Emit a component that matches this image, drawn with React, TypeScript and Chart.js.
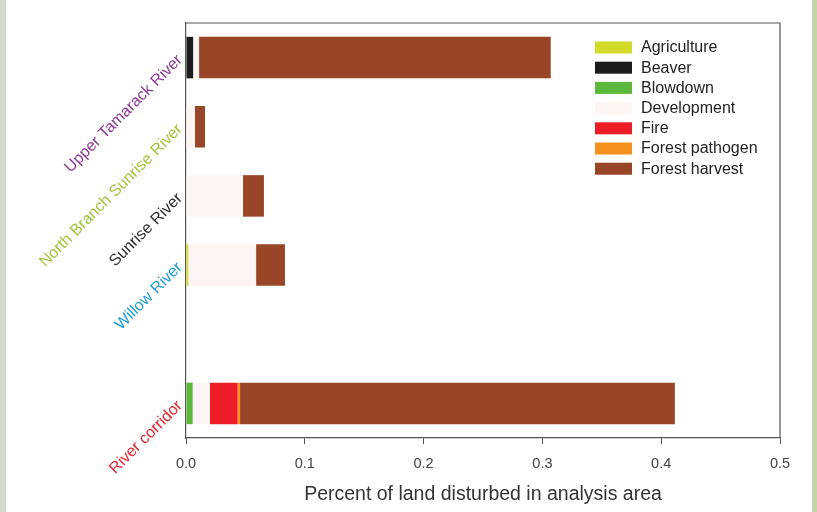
import React, { useEffect, useRef } from "react";
import { Chart, registerables } from "chart.js";

Chart.register(...registerables);

const categories = [
  "Upper Tamarack River",
  "North Branch Sunrise River",
  "Sunrise River",
  "Willow River",
  "",
  "River corridor",
];
const categoryColors = ["#8c3a95", "#9fc53a", "#2b2b2b", "#1f9bd7", "#ffffff", "#e4262c"];

const seriesNames = [
  "Agriculture",
  "Beaver",
  "Blowdown",
  "Development",
  "Fire",
  "Forest pathogen",
  "Forest harvest",
];
const seriesColors = ["#d2da2a", "#1c1c1c", "#5cb83c", "#fcf5f3", "#ec1d25", "#f5921f", "#994527"];

const agriculture = [0, 0, 0, 0.002, null, 0];
const beaver = [0.006, 0, 0, 0, null, 0];
const blowdown = [0, 0, 0, 0, null, 0.0056];
const development = [0.005, 0.0076, 0.048, 0.057, null, 0.0146];
const fire = [0, 0, 0, 0, null, 0.0233];
const forestPathogen = [0, 0, 0, 0, null, 0.002];
const forestHarvest = [0.296, 0.0084, 0.0176, 0.0243, null, 0.366];

const seriesValues = [agriculture, beaver, blowdown, development, fire, forestPathogen, forestHarvest];

const xTicks = [0, 0.1, 0.2, 0.3, 0.4, 0.5];
const xTitle = "Percent of land disturbed in analysis area";

const FONT = "'Liberation Sans', Arial, sans-serif";

const framePlugin = {
  id: "frame",
  afterDraw(chart: any) {
    const { ctx, chartArea } = chart;
    ctx.save();
    ctx.strokeStyle = "#555";
    ctx.lineWidth = 1.2;
    ctx.beginPath();
    ctx.moveTo(chartArea.left, chartArea.top);
    ctx.lineTo(chartArea.right, chartArea.top);
    ctx.lineTo(chartArea.right, chartArea.bottom);
    ctx.stroke();
    ctx.restore();
  },
};

const legendPlugin = {
  id: "customLegend",
  afterDraw(chart: any) {
    const { ctx, chartArea } = chart;
    const x0 = chartArea.right - 185;
    const y0 = chartArea.top + 24.5;
    ctx.save();
    ctx.font = `16px ${FONT}`;
    ctx.textBaseline = "middle";
    ctx.textAlign = "left";
    chart.data.datasets.forEach((ds: any, i: number) => {
      const cy = y0 + i * 20.2;
      ctx.fillStyle = ds.backgroundColor;
      ctx.fillRect(x0, cy - 6, 37, 12);
      ctx.fillStyle = "#222";
      ctx.fillText(ds.label, x0 + 46, cy + 0.5);
    });
    ctx.restore();
  },
};

export default function App() {
  const canvasRef = useRef<HTMLCanvasElement | null>(null);

  useEffect(() => {
    if (!canvasRef.current) return;
    const chart = new Chart(canvasRef.current, {
      type: "bar",
      data: {
        labels: categories,
        datasets: seriesNames.map((name, i) => ({
          label: name,
          data: seriesValues[i],
          backgroundColor: seriesColors[i],
          borderWidth: 0,
          barPercentage: 0.6,
          categoryPercentage: 1.0,
        })),
      },
      options: {
        indexAxis: "y",
        animation: false,
        responsive: true,
        maintainAspectRatio: false,
        layout: { padding: { left: 0, top: 23, right: 37, bottom: 0 } },
        plugins: {
          legend: { display: false },
          tooltip: { enabled: false },
        },
        scales: {
          x: {
            type: "linear",
            stacked: true,
            min: 0,
            max: 0.5,
            afterBuildTicks(scale: any) {
              scale.ticks = xTicks.map((v) => ({ value: v }));
            },
            afterFit(scale: any) {
              scale.height = 74;
            },
            ticks: {
              font: { family: FONT, size: 14.5 },
              color: "#444",
              padding: 11,
              callback: (v: any) => Number(v).toFixed(1),
            },
            grid: {
              display: true,
              drawOnChartArea: false,
              drawTicks: true,
              tickLength: 6,
              color: "#555",
            },
            border: { display: true, color: "#555", width: 1.2 },
            title: {
              display: true,
              text: xTitle,
              font: { family: FONT, size: 19.5 },
              color: "#333",
              padding: { top: 0, bottom: 6 },
            },
          },
          y: {
            stacked: true,
            afterFit(scale: any) {
              scale.width = 186;
            },
            ticks: {
              minRotation: 45,
              maxRotation: 45,
              padding: 6,
              font: { family: FONT, size: 16 },
              color: (ctx: any) => categoryColors[ctx.index] || "#333",
            },
            grid: { display: false, drawTicks: false },
            border: { display: true, color: "#555", width: 1.2 },
          },
        },
      },
      plugins: [framePlugin, legendPlugin],
    } as any);
    return () => chart.destroy();
  }, []);

  return (
    <div
      style={{
        position: "fixed",
        left: 0,
        top: 0,
        width: 817,
        height: 512,
        background: "#ffffff",
        overflow: "hidden",
      }}
    >
      <div style={{ position: "absolute", left: 0, top: 0, width: 6, height: 512, background: "#d3d9cc" }} />
      <div style={{ position: "absolute", left: 812, top: 0, width: 5, height: 512, background: "#c5d2a8" }} />
      <canvas ref={canvasRef} style={{ position: "absolute", left: 0, top: 0, width: 817, height: 512 }} />
    </div>
  );
}
